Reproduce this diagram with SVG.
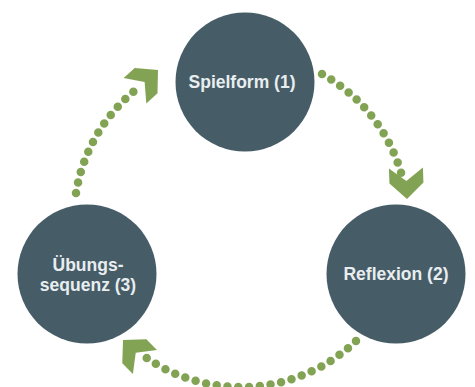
<svg xmlns="http://www.w3.org/2000/svg" width="475" height="387" viewBox="0 0 475 387">
  <style>
    .node { fill: #465c67; }
    .lbl { font-family: "Liberation Sans", Arial, sans-serif; font-weight: bold; font-size: 17.5px; fill: #e8eef0; text-anchor: middle; }
    .dots { fill: none; stroke: #83a354; stroke-width: 8.5; stroke-linecap: round; stroke-dasharray: 0 10.8; }
    .head { fill: #83a354; }
  </style>
  <defs>
    <path id="chev" d="M0,0 L-16,-17 L-31,-17 L-18,0 L-31,17 L-16,17 Z"/>
  </defs>
  <rect width="475" height="387" fill="#ffffff"/>
  <g id="connectors">
    <path class="dots" d="M322,74 A167,167 0 0 1 402,176"/>
    <use href="#chev" class="head" transform="translate(407,199) rotate(88)"/>
    <path class="dots" d="M356,341 A167,167 0 0 1 141,354"/>
    <use href="#chev" class="head" transform="translate(123,340) rotate(225)"/>
    <path class="dots" d="M76,193 A167,167 0 0 1 138,88"/>
    <use href="#chev" class="head" transform="translate(158,70) rotate(-42)"/>
  </g>
  <g id="node-spielform">
    <circle class="node" cx="245" cy="82" r="69.5"/>
    <text class="lbl" x="242" y="88">Spielform (1)</text>
  </g>
  <g id="node-reflexion">
    <circle class="node" cx="396" cy="274" r="69.5"/>
    <text class="lbl" x="396" y="280">Reflexion (2)</text>
  </g>
  <g id="node-uebungssequenz">
    <circle class="node" cx="87" cy="274" r="69.5"/>
    <text class="lbl" x="88" y="271">Übungs-</text>
    <text class="lbl" x="88" y="291">sequenz (3)</text>
  </g>
</svg>
